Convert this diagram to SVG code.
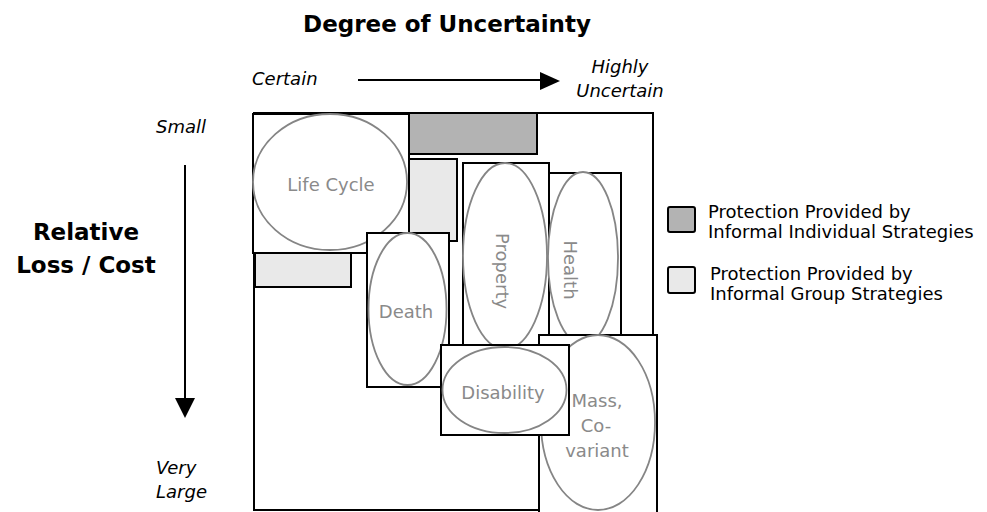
<svg xmlns="http://www.w3.org/2000/svg" width="987" height="512" viewBox="0 0 987 512">
<style>
.box{fill:#fff;stroke:#000;stroke-width:2}
.dark{fill:#b3b3b3;stroke:#000;stroke-width:2}
.light{fill:#e9e9e9;stroke:#000;stroke-width:2}
.ell{fill:#fff;stroke:#858585;stroke-width:1.8}
.lbl{font-family:"DejaVu Sans",Verdana,sans-serif;font-size:18px;fill:#8a8a8a;text-anchor:middle}
.it{font-family:"DejaVu Sans",Verdana,sans-serif;font-size:18px;font-style:italic;fill:#000}
.bold{font-family:"DejaVu Sans",Verdana,sans-serif;font-weight:bold;fill:#000;text-anchor:middle}
.leg{font-family:"DejaVu Sans",Verdana,sans-serif;font-size:18px;fill:#000}
.ln{stroke:#000;stroke-width:2;fill:none}
</style>
<rect width="987" height="512" fill="#fff"/>
<text class="bold" x="447" y="32" font-size="23">Degree of Uncertainty</text>
<text class="it" x="252" y="85">Certain</text>
<text class="it" x="620" y="73" text-anchor="middle">Highly</text>
<text class="it" x="620" y="97" text-anchor="middle">Uncertain</text>
<text class="it" x="156" y="133">Small</text>
<text class="bold" x="86" y="240" font-size="23">Relative</text>
<text class="bold" x="86" y="273" font-size="23">Loss / Cost</text>
<text class="it" x="156" y="474">Very</text>
<text class="it" x="156" y="498">Large</text>
<g id="connectors">
<line class="ln" x1="358" y1="80" x2="542" y2="80"/>
<polygon points="540,72 560,81 540,90" fill="#000"/>
<line class="ln" x1="185" y1="165" x2="185" y2="400"/>
<polygon points="175,398 195,398 185,418" fill="#000"/>
</g>
<g id="outer"><rect class="box" x="254" y="113" width="399" height="397"/></g>
<g id="individual-strategy"><rect class="dark" x="409" y="113" width="128" height="41"/></g>
<g id="group-strategy-1"><rect class="light" x="409" y="159" width="48" height="82"/></g>
<g id="group-strategy-2"><rect class="light" x="255" y="253" width="96" height="34"/></g>
<g id="life-cycle">
<rect class="box" x="253" y="114" width="156" height="139"/>
<ellipse class="ell" cx="330" cy="182" rx="77" ry="68"/>
<text class="lbl" x="331" y="191">Life Cycle</text>
</g>
<g id="death">
<rect class="box" x="367" y="233" width="82" height="154"/>
<ellipse class="ell" cx="407.5" cy="309" rx="39" ry="76"/>
<text class="lbl" x="406" y="318">Death</text>
</g>
<g id="property">
<rect class="box" x="463" y="163" width="86" height="182"/>
<ellipse class="ell" cx="505" cy="256" rx="42" ry="93"/>
<text class="lbl" transform="translate(495.5,271) rotate(90)">Property</text>
</g>
<g id="health">
<rect class="box" x="549" y="173" width="72" height="162"/>
<ellipse class="ell" cx="583" cy="258" rx="35" ry="86"/>
<text class="lbl" transform="translate(563.5,270) rotate(90)">Health</text>
</g>
<g id="mass-covariant">
<rect class="box" x="539" y="335" width="118" height="182"/>
<ellipse class="ell" cx="598" cy="422.5" rx="57" ry="87.5"/>
<text class="lbl" x="597" y="407">Mass,</text>
<text class="lbl" x="596" y="432">Co-</text>
<text class="lbl" x="597" y="457">variant</text>
</g>
<g id="disability">
<rect class="box" x="441" y="345" width="128" height="90"/>
<ellipse class="ell" cx="504.5" cy="390" rx="62" ry="43"/>
<text class="lbl" x="503" y="399">Disability</text>
</g>
<g id="legend">
<rect class="dark" x="668" y="207" width="27" height="25" rx="2"/>
<text class="leg" x="708" y="218">Protection Provided by</text>
<text class="leg" x="708" y="238">Informal Individual Strategies</text>
<rect class="light" x="668" y="267" width="27" height="26" rx="2"/>
<text class="leg" x="710" y="280">Protection Provided by</text>
<text class="leg" x="710" y="300">Informal Group Strategies</text>
</g>
</svg>
